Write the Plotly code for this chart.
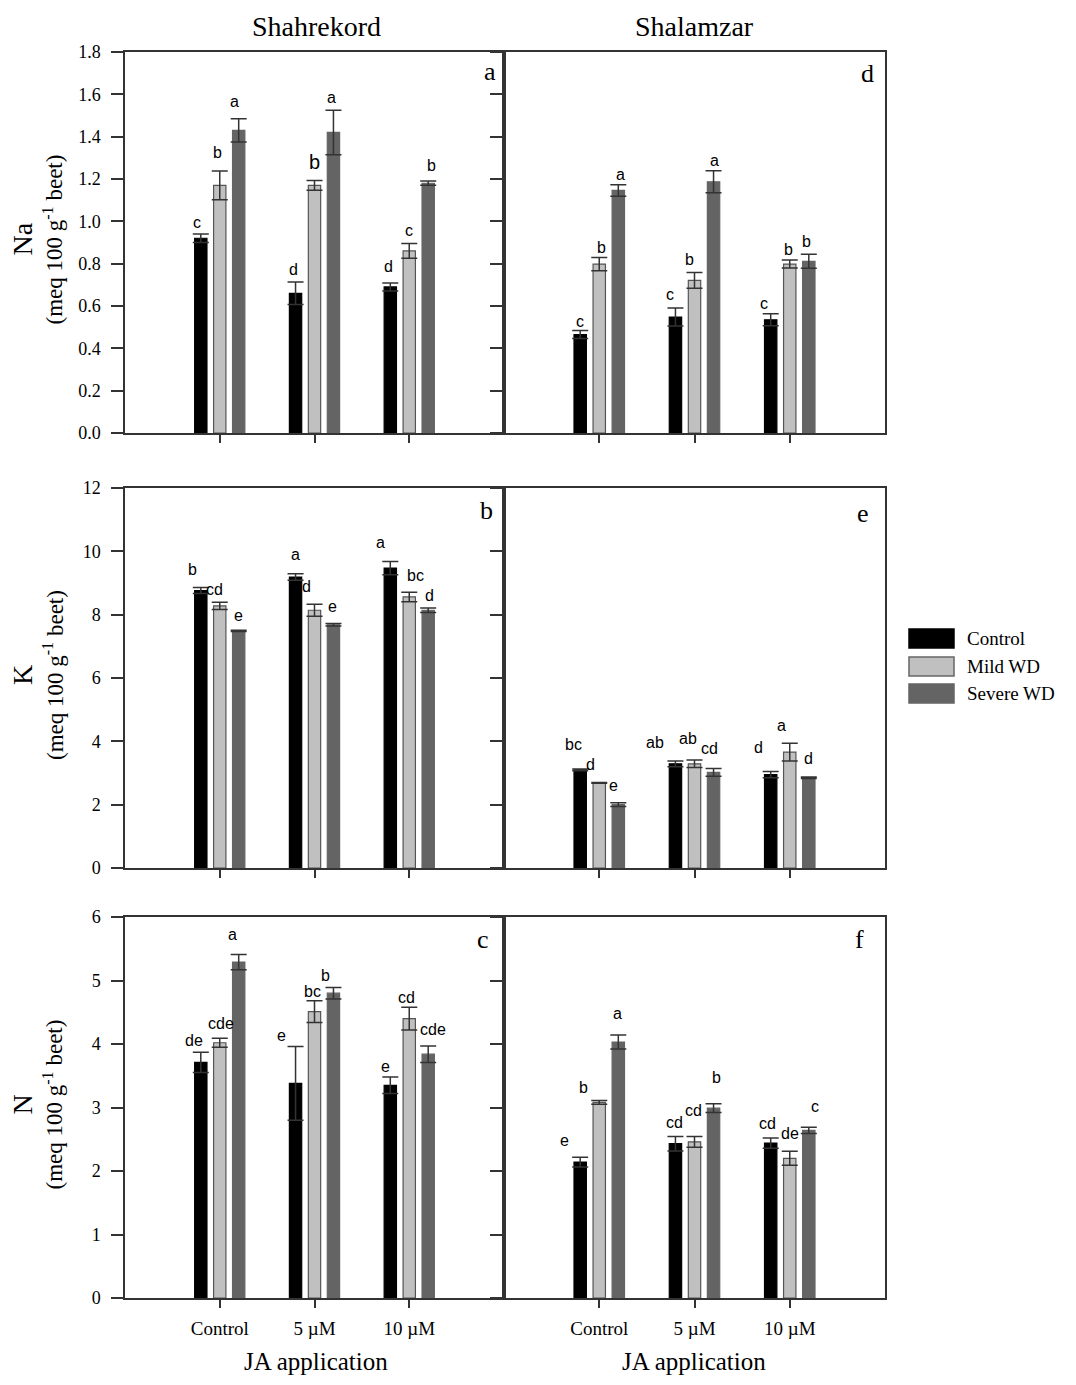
import plotly.graph_objects as go

# ---------------- data ----------------
categories = ["Control", "5 µM", "10 µM"]
series_names = ["Control", "Mild WD", "Severe WD"]

# each list: [Control JA, 5 µM, 10 µM]
na_shk_control = [0.92, 0.66, 0.69]
na_shk_mild = [1.17, 1.17, 0.86]
na_shk_severe = [1.43, 1.42, 1.18]
na_shk_control_err = [0.02, 0.053, 0.019]
na_shk_mild_err = [0.068, 0.023, 0.035]
na_shk_severe_err = [0.055, 0.105, 0.01]
na_shk_letters = [["c", "d", "d"], ["b", "b", "c"], ["a", "a", "b"]]

na_shl_control = [0.465, 0.548, 0.535]
na_shl_mild = [0.798, 0.721, 0.798]
na_shl_severe = [1.146, 1.187, 0.811]
na_shl_control_err = [0.019, 0.043, 0.028]
na_shl_mild_err = [0.031, 0.037, 0.019]
na_shl_severe_err = [0.027, 0.052, 0.033]
na_shl_letters = [["c", "c", "c"], ["b", "b", "b"], ["a", "a", "b"]]

k_shk_control = [8.76, 9.19, 9.47]
k_shk_mild = [8.28, 8.14, 8.56]
k_shk_severe = [7.49, 7.68, 8.14]
k_shk_control_err = [0.095, 0.1, 0.21]
k_shk_mild_err = [0.116, 0.19, 0.15]
k_shk_severe_err = [0.02, 0.04, 0.07]
k_shk_letters = [["b", "a", "a"], ["cd", "d", "bc"], ["e", "e", "d"]]

k_shl_control = [3.10, 3.29, 2.95]
k_shl_mild = [2.69, 3.29, 3.66]
k_shl_severe = [2.00, 3.02, 2.85]
k_shl_control_err = [0.03, 0.09, 0.1]
k_shl_mild_err = [0.01, 0.12, 0.28]
k_shl_severe_err = [0.06, 0.12, 0.02]
k_shl_letters = [["bc", "ab", "d"], ["d", "ab", "a"], ["e", "cd", "d"]]

n_shk_control = [3.71, 3.38, 3.35]
n_shk_mild = [4.02, 4.51, 4.40]
n_shk_severe = [5.29, 4.80, 3.84]
n_shk_control_err = [0.16, 0.58, 0.13]
n_shk_mild_err = [0.07, 0.17, 0.18]
n_shk_severe_err = [0.12, 0.09, 0.13]
n_shk_letters = [["de", "e", "e"], ["cde", "bc", "cd"], ["a", "b", "cde"]]

n_shl_control = [2.14, 2.43, 2.44]
n_shl_mild = [3.08, 2.46, 2.20]
n_shl_severe = [4.03, 2.99, 2.64]
n_shl_control_err = [0.076, 0.115, 0.08]
n_shl_mild_err = [0.03, 0.085, 0.11]
n_shl_severe_err = [0.11, 0.07, 0.05]
n_shl_letters = [["e", "cd", "cd"], ["b", "cd", "de"], ["a", "b", "c"]]

y_ranges = {"Na": [0, 1.8], "K": [0, 12], "N": [0, 6]}
y_dticks = {"Na": 0.2, "K": 2, "N": 1}

# ---------------- style / layout tuning (pixels) ----------------
W, H = 1076, 1385
PAGE_OFF = 8  # the page body margin shifts the figure by this many px
SERIF = "Liberation Serif"
SANS = "Liberation Sans"
bar_colors = ["#000000", "#c0c0c0", "#646464"]
bar_lines = ["#000000", "#555555", "#646464"]
AX = "#333333"

col_px = [(125, 504), (504, 885)]
row_px = [(52, 433), (488, 868), (917, 1298)]
x_range = [-1.0, 3.0]

# letter label shifts (dx, dy) in px, per panel [series][category]
label_shift = {
    "a": [[(-4, 12), (-2, 13), (-2, 16)], [(-2, 18), (0, 18), (0, 13)], [(-4, 17), (-2, 13), (3, 16)]],
    "d": [[(0, 9), (-5, 13), (-7, 10)], [(2, 10), (-5, 13), (-1, 11)], [(2, 10), (1, 10), (-2, 13)]],
    "b": [[(-8, 18), (0, 19), (-10, 19)], [(-5, 13), (-8, 18), (6, 17)], [(0, 15), (-1, 17), (1, 13)]],
    "e": [[(-7, 24), (-20, 18), (-12, 24)], [(-9, 18), (-7, 22), (-8, 18)], [(-5, 17), (-4, 20), (0, 19)]],
    "c": [[(-7, 12), (-14, 11), (-5, 11)], [(1, 15), (-2, 9), (-3, 10)], [(-6, 20), (-8, 12), (5, 16)]],
    "f": [[(-16, 17), (-1, 14), (-3, 14)], [(-16, 13), (-1, 26), (0, 18)], [(-1, 22), (3, 26), (6, 21)]],
}
big_labels = {("a", 1, 1)}  # (panel, series, category) drawn larger

panel_letter_px = {"a": (490, 72), "d": (867, 73), "b": (486, 510),
                   "e": (863, 513), "c": (483, 939), "f": (859, 939)}

panels = [
    # (letter, row, col, element, means, errs, letters)
    ("a", 0, 0, "Na", [na_shk_control, na_shk_mild, na_shk_severe],
     [na_shk_control_err, na_shk_mild_err, na_shk_severe_err], na_shk_letters),
    ("d", 0, 1, "Na", [na_shl_control, na_shl_mild, na_shl_severe],
     [na_shl_control_err, na_shl_mild_err, na_shl_severe_err], na_shl_letters),
    ("b", 1, 0, "K", [k_shk_control, k_shk_mild, k_shk_severe],
     [k_shk_control_err, k_shk_mild_err, k_shk_severe_err], k_shk_letters),
    ("e", 1, 1, "K", [k_shl_control, k_shl_mild, k_shl_severe],
     [k_shl_control_err, k_shl_mild_err, k_shl_severe_err], k_shl_letters),
    ("c", 2, 0, "N", [n_shk_control, n_shk_mild, n_shk_severe],
     [n_shk_control_err, n_shk_mild_err, n_shk_severe_err], n_shk_letters),
    ("f", 2, 1, "N", [n_shl_control, n_shl_mild, n_shl_severe],
     [n_shl_control_err, n_shl_mild_err, n_shl_severe_err], n_shl_letters),
]


def px_x(p):
    return (p - PAGE_OFF) / W


def px_y(p):
    return 1 - (p - PAGE_OFF) / H


fig = go.Figure()
layout = dict(
    width=W, height=H, autosize=False, margin=dict(l=0, r=0, t=0, b=0, pad=0, autoexpand=False),
    paper_bgcolor="white", plot_bgcolor="white",
    barmode="group", bargap=0.4, bargroupgap=0.35,
    showlegend=False, font=dict(family=SERIF, color="black"),
)
annotations = []
shapes = []

for idx, (pl, r, c, elem, means, errs, letters) in enumerate(panels):
    n = idx + 1
    xa = "x" if n == 1 else f"x{n}"
    ya = "y" if n == 1 else f"y{n}"
    for s in range(3):
        fig.add_trace(go.Bar(
            x=categories, y=means[s], name=series_names[s],
            xaxis=xa, yaxis=ya, offsetgroup=str(s),
            marker=dict(color=bar_colors[s], line=dict(color=bar_lines[s], width=1.2)),
            error_y=dict(type="data", array=errs[s], symmetric=True,
                         color=AX, thickness=1.5, width=8),
        ))
        for i in range(3):
            dx, dy = label_shift[pl][s][i]
            size = 20 if (pl, s, i) in big_labels else 16
            annotations.append(dict(
                xref=xa, yref=ya, x=i + (s - 1) * 0.2, y=means[s][i] + errs[s][i],
                text=letters[s][i], showarrow=False, xanchor="center", yanchor="middle",
                xshift=dx, yshift=dy, font=dict(family=SANS, size=size, color="black"),
            ))
    x0, x1 = col_px[c]
    y0, y1 = row_px[r]
    xkey = "xaxis" if n == 1 else f"xaxis{n}"
    ykey = "yaxis" if n == 1 else f"yaxis{n}"
    layout[xkey] = dict(
        domain=[px_x(x0), px_x(x1)], anchor=ya, type="category",
        categoryorder="array", categoryarray=categories, range=x_range,
        showline=True, mirror=True, linecolor=AX, linewidth=1.5,
        ticks="outside", ticklen=8, tickwidth=1.5, tickcolor=AX,
        showticklabels=(r == 2), tickfont=dict(family=SERIF, size=19, color="black"),
        ticklabelstandoff=4,
        showgrid=False, zeroline=False, fixedrange=True, automargin=False,
    )
    layout[ykey] = dict(
        domain=[px_y(y1), px_y(y0)], anchor=xa, range=y_ranges[elem],
        dtick=y_dticks[elem], tick0=0, tickformat=".1f" if elem == "Na" else "d",
        showline=True, mirror=True, linecolor=AX, linewidth=1.5,
        ticks="outside", ticklen=12, tickwidth=1.5, tickcolor=AX,
        showticklabels=(c == 0), tickfont=dict(family=SERIF, size=18, color="black"),
        ticklabelstandoff=7,
        showgrid=False, zeroline=False, fixedrange=True, automargin=False,
    )
    lx, ly = panel_letter_px[pl]
    annotations.append(dict(
        xref="paper", yref="paper", x=px_x(lx), y=px_y(ly), text=pl,
        showarrow=False, xanchor="center", yanchor="middle",
        font=dict(family=SERIF, size=26, color="black"),
    ))
    if c == 0:
        yc = (y0 + y1) / 2
        annotations.append(dict(
            xref="paper", yref="paper", x=px_x(22), y=px_y(yc - 3), text=elem,
            textangle=-90, showarrow=False, xanchor="center", yanchor="middle",
            font=dict(family=SERIF, size=28, color="black"),
        ))
        annotations.append(dict(
            xref="paper", yref="paper", x=px_x(53), y=px_y(yc - 3),
            text="(meq 100 g<sup>-1</sup> beet)",
            textangle=-90, showarrow=False, xanchor="center", yanchor="middle",
            font=dict(family=SERIF, size=23, color="black"),
        ))

# column titles (top-anchored so the text stays inside the page)
for txt, xc in [("Shahrekord", 316), ("Shalamzar", 694)]:
    annotations.append(dict(
        xref="paper", yref="paper", x=px_x(xc), y=px_y(9), text=txt,
        showarrow=False, xanchor="center", yanchor="top",
        font=dict(family=SERIF, size=28, color="black"),
    ))
# x-axis titles
for xc in [316, 694]:
    annotations.append(dict(
        xref="paper", yref="paper", x=px_x(xc), y=px_y(1361), text="JA application",
        showarrow=False, xanchor="center", yanchor="middle",
        font=dict(family=SERIF, size=25, color="black"),
    ))

# custom legend
legend_rows = [(629, 648), (657, 676), (684, 703)]
for s, (t, b) in enumerate(legend_rows):
    shapes.append(dict(
        type="rect", xref="paper", yref="paper",
        x0=px_x(909), x1=px_x(954), y0=px_y(b), y1=px_y(t),
        fillcolor=bar_colors[s], line=dict(color=bar_lines[s] if s != 1 else "#666666", width=1.5),
    ))
    annotations.append(dict(
        xref="paper", yref="paper", x=px_x(965), y=px_y((t + b) / 2), text=series_names[s],
        showarrow=False, xanchor="left", yanchor="middle",
        font=dict(family=SERIF, size=19, color="black"),
    ))

layout["annotations"] = annotations
layout["shapes"] = shapes
fig.update_layout(**layout)
fig.write_html("out.html")
